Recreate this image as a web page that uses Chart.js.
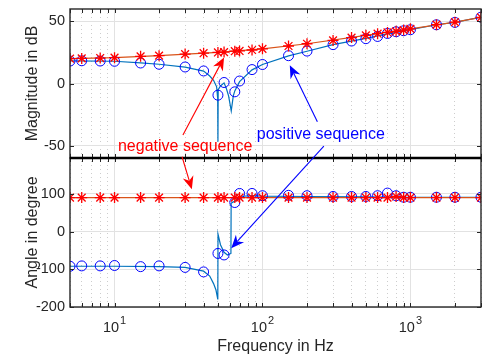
<!DOCTYPE html>
<html>
<head>
<meta charset="utf-8">
<script src="https://cdn.jsdelivr.net/npm/chart.js@4.4.1/dist/chart.umd.min.js"></script>
<style>
  html, body { margin: 0; padding: 0; background: #fff; }
  #wrap { width: 482px; height: 356px; }
</style>
</head>
<body>
<div id="wrap"><canvas id="bode"></canvas></div>
<script>
// frequencies where markers are drawn (Hz)
const markerFreq = [5, 6, 8, 10, 15, 20, 30, 40, 50, 55, 65, 70, 85, 100, 150, 200, 300, 400, 500, 600, 700, 800, 900, 1000, 1500, 2000, 3000];
// magnitude (dB) at markers
const negMag = [20.0, 20.2, 20.5, 20.8, 21.9, 22.4, 23.7, 24.4, 25.0, 25.3, 26.0, 26.2, 27.0, 27.9, 30.2, 32.0, 34.7, 37.0, 38.8, 40.1, 41.1, 42.0, 43.0, 44.0, 47.4, 49.4, 53.3];
const posMag = [18.1, 18.3, 18.1, 17.9, 16.5, 15.5, 13.3, 10.1, -9.4, 0.8, -6.7, 2.0, 11.2, 15.3, 22.4, 26.1, 31.3, 34.2, 36.1, 37.9, 40.3, 41.7, 42.5, 43.3, 47.3, 49.2, 53.4];
// angle (degree) at markers
const negAng = [90, 90, 90, 90, 90, 90, 90, 90, 90, 90, 90, 90, 90, 90, 90, 90, 90, 90, 90, 90, 90, 93, 90, 90, 90, 90, 90];
const posAng = [-92, -91, -91, -90, -93, -91, -95, -107, -58, -62, 77, 101, 101, 95, 96, 95, 93, 93, 93, 95, 102, 95, 91, 91, 91, 91, 91];

// continuous curves
const posMagLineFreq = [5, 10, 15, 20, 30, 40, 44, 46.7, 49, 49.8, 50, 50.2, 52, 55, 57, 59, 61.5, 63.5, 65, 70, 85, 100, 150, 200, 300, 500, 700, 1000, 1500, 2000, 3000];
const posMagLine = [18.2, 17.9, 16.6, 15.5, 13.2, 10.0, 6.0, 2.6, -2.7, -12, -47, -5, -2, 0.5, -4, -10, -22, -10, -6, 1.5, 11, 15.3, 22.3, 26.0, 31.3, 36.3, 40.0, 43.4, 47.3, 49.3, 53.4];
const negMagLineFreq = [5, 10, 20, 50, 100, 200, 500, 1000, 2000, 3000];
const negMagLine = [20.0, 20.8, 22.4, 25.0, 27.9, 32.0, 38.8, 44.0, 49.4, 53.3];
const posAngLineFreq = [5, 10, 20, 30, 40, 44, 46.7, 48.5, 49.9, 50.05, 52, 55, 58, 61.2, 61.4, 63, 65, 70, 85, 100, 200, 500, 1000, 3000];
const posAngLine = [-92, -92, -93, -95, -105, -118, -138, -155, -180, -7, -35, -55, -62, -58, 75, 78, 80, 93, 95, 94, 93, 92, 91, 91];
const negAngLineFreq = [5, 3000];
const negAngLine = [90, 90];

const magTicks = [-50, 0, 50];
const angTicks = [-200, -100, 0, 100];
const decades = [10, 100, 1000];
const decadeExp = ['1', '2', '3'];

const notes = [
  { text: 'negative sequence', color: '#ff0000', axis: 'yMag', x: 30, y: -51 },
  { text: 'positive sequence', color: '#0000ff', axis: 'yMag', x: 248, y: -41.5 }
];
const arrows = [
  { color: '#ff0000', from: { axis: 'yMag', x: 29, y: -41.5 }, to: { axis: 'yMag', x: 55, y: 21 } },
  { color: '#ff0000', from: { axis: 'yMag', x: 28.6, y: -59 }, to: { axis: 'yAng', x: 33.3, y: 112 } },
  { color: '#0000ff', from: { axis: 'yMag', x: 235, y: -30.8 }, to: { axis: 'yMag', x: 153, y: 14.7 } },
  { color: '#0000ff', from: { axis: 'yMag', x: 260, y: -50.4 }, to: { axis: 'yAng', x: 61.5, y: -44 } }
];

const pts = (xs, ys) => xs.map((x, i) => ({ x: x, y: ys[i] }));

// x ticks at 1..9 x each decade inside the range
const xTickValues = [];
[1, 10, 100, 1000].forEach(d => {
  for (let m = 1; m <= 9; m++) {
    const v = m * d;
    if (v >= 5 && v <= 3000) xTickValues.push(v);
  }
});

const textColor = '#262626';
const fontFam = '"Liberation Sans", Arial, Helvetica, sans-serif';

function drawArrow(ctx, x1, y1, x2, y2, color) {
  const a = Math.atan2(y2 - y1, x2 - x1);
  const c = Math.cos(a), s = Math.sin(a);
  const len = 13, half = 5.5, notch = 9;
  ctx.strokeStyle = color;
  ctx.fillStyle = color;
  ctx.lineWidth = 1.1;
  ctx.beginPath();
  ctx.moveTo(x1, y1);
  ctx.lineTo(x2 - notch * c, y2 - notch * s);
  ctx.stroke();
  ctx.beginPath();
  ctx.moveTo(x2, y2);
  ctx.lineTo(x2 - len * c + half * s, y2 - len * s - half * c);
  ctx.lineTo(x2 - notch * c, y2 - notch * s);
  ctx.lineTo(x2 - len * c - half * s, y2 - len * s + half * c);
  ctx.closePath();
  ctx.fill();
}

const noPad = s => { s.paddingTop = 0; s.paddingBottom = 0; s.paddingLeft = 0; s.paddingRight = 0; };

const framePlugin = {
  id: 'frames',
  afterDraw(chart) {
    const ctx = chart.ctx;
    const xs = chart.scales.x;
    ctx.save();
    ctx.strokeStyle = textColor;
    ['yMag', 'yAng'].forEach(id => {
      const ys = chart.scales[id];
      ctx.lineWidth = 1;
      ctx.beginPath();
      xs.ticks.forEach(t => {
        const p = Math.round(xs.getPixelForValue(t.value)) + 0.5;
        ctx.moveTo(p, ys.bottom); ctx.lineTo(p, ys.bottom - 4);
        ctx.moveTo(p, ys.top); ctx.lineTo(p, ys.top + 4);
      });
      ys.ticks.forEach(t => {
        const p = Math.round(ys.getPixelForValue(t.value)) + 0.5;
        ctx.moveTo(xs.left, p); ctx.lineTo(xs.left + 4, p);
        ctx.moveTo(xs.right, p); ctx.lineTo(xs.right - 4, p);
      });
      ctx.stroke();
      ctx.lineWidth = 1.4;
      ctx.strokeRect(xs.left, ys.top, xs.right - xs.left, ys.bottom - ys.top);
    });
    // divider between the two panels
    ctx.lineWidth = 2.5;
    ctx.strokeStyle = '#000';
    ctx.beginPath();
    ctx.moveTo(xs.left, chart.scales.yMag.bottom);
    ctx.lineTo(xs.right, chart.scales.yMag.bottom);
    ctx.stroke();

    // decade labels 10^n
    ctx.fillStyle = textColor;
    ctx.textBaseline = 'alphabetic';
    ctx.textAlign = 'left';
    decades.forEach((d, i) => {
      const p = xs.getPixelForValue(d);
      ctx.font = '14.5px ' + fontFam;
      const w1 = ctx.measureText('10').width;
      ctx.font = '11px ' + fontFam;
      const w2 = ctx.measureText(decadeExp[i]).width;
      const x0 = p - (w1 + w2 + 1) / 2;
      ctx.font = '14.5px ' + fontFam;
      ctx.fillText('10', x0, xs.top + 24.5);
      ctx.font = '11px ' + fontFam;
      ctx.fillText(decadeExp[i], x0 + w1 + 1, xs.top + 17);
    });

    // annotations
    const toPx = p => ({ x: xs.getPixelForValue(p.x), y: chart.scales[p.axis].getPixelForValue(p.y) });
    ctx.font = '16px ' + fontFam;
    ctx.textAlign = 'center';
    ctx.textBaseline = 'middle';
    notes.forEach(n => {
      const q = toPx(n);
      ctx.fillStyle = n.color;
      ctx.fillText(n.text, q.x, q.y);
    });
    arrows.forEach(a => {
      const f = toPx(a.from), t = toPx(a.to);
      drawArrow(ctx, f.x, f.y, t.x, t.y, a.color);
    });
    ctx.restore();
  }
};

const lineDs = (data, axis, color, order) => ({
  data: data, yAxisID: axis, showLine: true, borderColor: color, borderWidth: 1.2,
  pointRadius: 0, pointHoverRadius: 0, order: order, clip: 0
});
const markDs = (data, axis, style, color, radius, width, order) => ({
  data: data, yAxisID: axis, showLine: false, pointStyle: style, pointRadius: radius,
  pointHoverRadius: radius, borderColor: color, backgroundColor: 'rgba(0,0,0,0)',
  pointBorderWidth: width, order: order
});

new Chart(document.getElementById('bode'), {
  type: 'scatter',
  data: {
    datasets: [
      lineDs(pts(posMagLineFreq, posMagLine), 'yMag', '#0072bd', 6),
      lineDs(pts(negMagLineFreq, negMagLine), 'yMag', '#d95319', 5),
      markDs(pts(markerFreq, posMag), 'yMag', 'circle', '#0000ff', 5, 1, 2),
      markDs(pts(markerFreq, negMag), 'yMag', 'star', '#ff0000', 5.5, 1.3, 1),
      lineDs(pts(posAngLineFreq, posAngLine), 'yAng', '#0072bd', 6),
      lineDs(pts(negAngLineFreq, negAngLine), 'yAng', '#d95319', 5),
      markDs(pts(markerFreq, posAng), 'yAng', 'circle', '#0000ff', 5, 1, 2),
      markDs(pts(markerFreq, negAng), 'yAng', 'star', '#ff0000', 5.5, 1.3, 1)
    ]
  },
  options: {
    responsive: true,
    maintainAspectRatio: false,
    animation: false,
    events: [],
    layout: { autoPadding: false, padding: { top: 9, right: 1, bottom: 0, left: 0 } },
    plugins: { legend: { display: false }, tooltip: { enabled: false } },
    scales: {
      x: {
        type: 'logarithmic',
        min: 5,
        max: 3000,
        bounds: 'data',
        afterBuildTicks: s => { s.ticks = xTickValues.map(v => ({ value: v })); },
        afterFit: s => { s.height = 49; noPad(s); },
        ticks: { display: false },
        grid: {
          drawTicks: false,
          lineWidth: 1,
          color: c => (decades.includes(c.tick && c.tick.value) ? '#e2e2e2' : '#cdcdcd')
        },
        border: {
          display: false,
          dash: c => (decades.includes(c.tick && c.tick.value) ? [] : [1, 3])
        },
        title: {
          display: true, text: 'Frequency in Hz', color: textColor,
          font: { family: fontFam, size: 16 }, padding: { top: 0, bottom: 0 }
        }
      },
      yAng: {
        type: 'linear', position: 'left', stack: 'bode', stackWeight: 1,
        min: -200, max: 195,
        afterBuildTicks: s => { s.ticks = angTicks.map(v => ({ value: v })); },
        afterFit: s => { s.width = 70; noPad(s); },
        ticks: { padding: 5, color: textColor, font: { family: fontFam, size: 14.5 } },
        grid: { drawTicks: false, color: '#e2e2e2' },
        border: { display: false },
        title: {
          display: true, text: 'Angle in degree', color: textColor,
          font: { family: fontFam, size: 16 }, padding: { top: 23, bottom: 0 }
        }
      },
      yMag: {
        type: 'linear', position: 'left', stack: 'bode', stackWeight: 1,
        min: -60, max: 60,
        afterBuildTicks: s => { s.ticks = magTicks.map(v => ({ value: v })); },
        afterFit: s => { s.width = 70; noPad(s); },
        ticks: { padding: 5, color: textColor, font: { family: fontFam, size: 14.5 } },
        grid: { drawTicks: false, color: '#e2e2e2' },
        border: { display: false },
        title: {
          display: true, text: 'Magnitude in dB', color: textColor,
          font: { family: fontFam, size: 16 }, padding: { top: 23, bottom: 0 }
        }
      }
    }
  },
  plugins: [framePlugin]
});
</script>
</body>
</html>
